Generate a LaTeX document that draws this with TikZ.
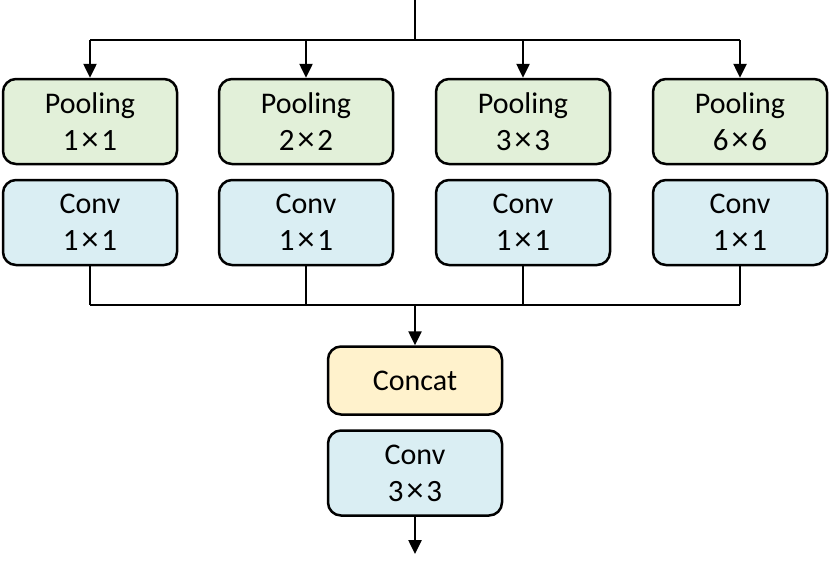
\documentclass[tikz,border=0pt]{standalone}
\usepackage{fontspec}
\setmainfont{Carlito}
\usetikzlibrary{arrows.meta}
\definecolor{poolc}{HTML}{E2F0D9}
\definecolor{convc}{HTML}{DAEEF3}
\definecolor{catc}{HTML}{FFF2CC}
\newcommand\dimtxt[2]{{\fontsize{31}{37}\selectfont #1\kern3pt{\fontsize{34}{37}\selectfont ×}\kern3pt#2}}
\tikzset{
  blk/.style={draw=black, line width=2.5pt, rounded corners=13pt, minimum width=174pt, minimum height=85pt, align=center, inner sep=0pt, font=\fontsize{30}{37}\selectfont},
  pool/.style={blk, fill=poolc},
  convb/.style={blk, fill=convc},
  catb/.style={blk, fill=catc, minimum height=68pt},
  wire/.style={line width=2.5pt},
  arr/.style={wire, -{Triangle[length=14pt,width=13pt]}}
}
\begin{document}
\begin{tikzpicture}[x=1pt,y=-1pt]
\useasboundingbox (0,0) rectangle (830,571);
\node[pool] (p1) at (90,121.5) {Pooling\\\dimtxt{1}{1}};
\node[pool] (p2) at (306,121.5) {Pooling\\\dimtxt{2}{2}};
\node[pool] (p3) at (523,121.5) {Pooling\\\dimtxt{3}{3}};
\node[pool] (p4) at (740,121.5) {Pooling\\\dimtxt{6}{6}};
\node[convb] (c1) at (90,222.5) {Conv\\\dimtxt{1}{1}};
\node[convb] (c2) at (306,222.5) {Conv\\\dimtxt{1}{1}};
\node[convb] (c3) at (523,222.5) {Conv\\\dimtxt{1}{1}};
\node[convb] (c4) at (740,222.5) {Conv\\\dimtxt{1}{1}};
\node[catb] (cat) at (415,380.5) {Concat};
\node[convb] (cf) at (415,473) {Conv\\\dimtxt{3}{3}};
\coordinate (in) at (415,0);
\coordinate (split) at (415,40);
\coordinate (merge) at (415,305);
\coordinate (out) at (415,554);
\draw[wire] (in) -- (split);
\draw[wire] (p1.north |- split) -- (p4.north |- split);
\foreach \i in {1,2,3,4} {
  \draw[arr] (p\i.north |- split) -- (p\i.north);
  \draw[wire] (c\i.south) -- (c\i.south |- merge);
}
\draw[wire] (c1.south |- merge) -- (c4.south |- merge);
\draw[arr] (merge) -- (cat.north);
\draw[arr] (cf.south) -- (out);
\end{tikzpicture}
\end{document}
